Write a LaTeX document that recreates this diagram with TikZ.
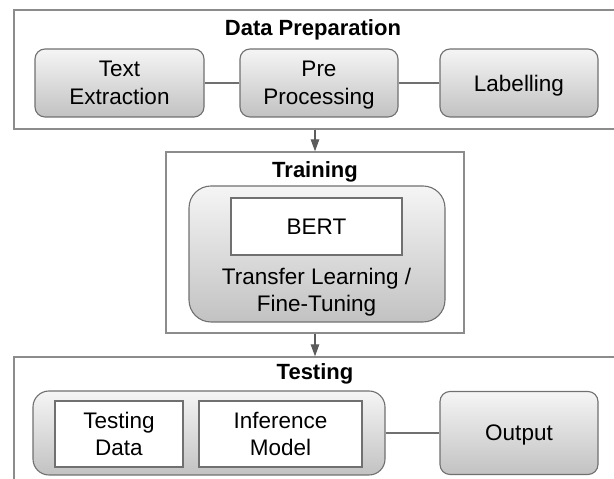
\documentclass[tikz,border=0pt]{standalone}
\usepackage{fontspec}
\setmainfont{Liberation Sans}
\usetikzlibrary{arrows.meta,positioning}
\definecolor{framecol}{HTML}{8C8C8C}
\definecolor{boxcol}{HTML}{707070}
\definecolor{shadetop}{HTML}{F5F5F5}
\definecolor{shadebot}{HTML}{C2C2C2}
\definecolor{arrowcol}{HTML}{5C5C5C}

\begin{document}
\begin{tikzpicture}[x=1pt,y=1pt,
  font=\fontsize{22.5}{27.5}\selectfont,
  frame/.style={draw=framecol,line width=1.3pt,inner sep=0pt},
  stage/.style={font=\fontsize{22}{27}\selectfont\bfseries,anchor=base},
  block/.style={draw=boxcol,line width=1.1pt,rounded corners=10pt,
                top color=shadetop,bottom color=shadebot,align=center,
                inner sep=0pt,text depth=0pt},
  plain/.style={draw=boxcol,line width=1.1pt,fill=white,align=center,
                inner sep=0pt,text depth=0pt},
  link/.style={draw=boxcol,line width=1.1pt},
  flow/.style={draw=arrowcol,line width=1.1pt,-{Triangle[length=12pt,width=8.5pt]}},
]
\clip (0,0) rectangle (614,479);

\node[frame,minimum width=602pt,minimum height=119pt] (prep) at (315,409.5) {};
\node[stage] (preptitle) at (313,443) {Data Preparation};
\node[block,minimum width=169pt,minimum height=68pt] (extract) at (119.5,396) {Text\\Extraction};
\node[block,minimum width=158pt,minimum height=68pt] (preproc) at (319,396) {Pre\\Processing};
\node[block,minimum width=158pt,minimum height=68pt] (label) at (519,396) {Labelling};
\draw[link] (extract) -- (preproc);
\draw[link] (preproc) -- (label);

\node[frame,minimum width=298pt,minimum height=181pt] (train) at (315,236.5) {};
\node[stage] (traintitle) at (315,301) {Training};
\node[block,rounded corners=22pt,minimum width=256pt,minimum height=136pt] (tune) at (317,225) {};
\node[plain,minimum width=171pt,minimum height=57pt] (bert) at (316.5,252.5) {BERT};
\node[align=center,text depth=0pt,inner sep=0pt] (tunetext) at (316.5,189) {Transfer Learning /\\Fine-Tuning};

\node[frame,minimum width=602pt,minimum height=140pt] (test) at (315,52) {};
\node[stage] (testtitle) at (315,99) {Testing};
\node[block,rounded corners=16pt,minimum width=352pt,minimum height=84pt] (testblk) at (209,46) {};
\node[plain,minimum width=128pt,minimum height=66pt] (testdata) at (119,45) {Testing\\Data};
\node[plain,minimum width=163pt,minimum height=66pt] (infer) at (280.5,45) {Inference\\Model};
\node[block,minimum width=158pt,minimum height=83pt] (output) at (519,46) {Output};
\draw[link] (testblk) -- (output);

\draw[flow] (prep.south) -- (train.north);
\draw[flow] (train.south) -- (test.north);
\end{tikzpicture}
\end{document}
